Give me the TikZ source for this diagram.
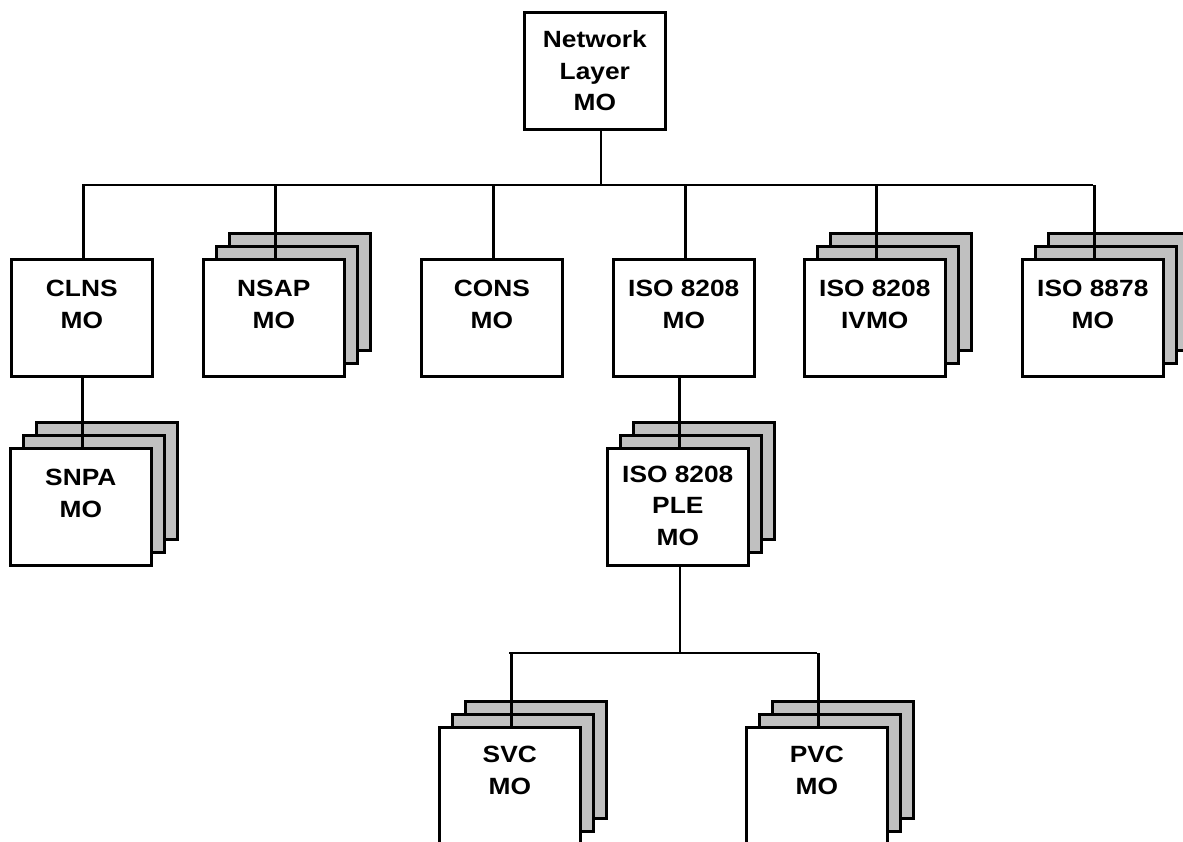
\documentclass[tikz,border=0pt]{standalone}
\usepackage{fontspec}
\setmainfont{Liberation Sans}
\newfontfamily\lblfont{Liberation Sans}[FakeStretch=1.12]
\definecolor{stackgray}{RGB}{192,192,192}
\tikzset{
  box/.style={draw, line width=2.6pt, fill=white, minimum width=141pt, minimum height=117pt, inner sep=0pt, anchor=north west},
  backbox/.style={box, fill=stackgray},
  txt/.style={font=\lblfont\bfseries\fontsize{23.5}{31.5}\selectfont, align=center, inner sep=0pt, anchor=north},
  conn/.style={line width=2.6pt}
}
\newcommand\backpair[3]{%
  \node[backbox] (#1b2) at ({#2+26},{#3-26}) {};
  \node[backbox] (#1b1) at ({#2+13},{#3-13}) {};
}
\begin{document}
\begin{tikzpicture}[x=1pt,y=-1pt]
\useasboundingbox (0,0) rectangle (1183,841);
\clip (0,0) rectangle (1183,841);
% stacked back boxes
\backpair{nsap}{202}{258}
\backpair{ivmo}{803}{258}
\backpair{isoseven}{1021}{258}
\backpair{snpa}{9}{447}
\backpair{ple}{606}{447}
\backpair{svc}{438}{726}
\backpair{pvc}{745}{726}
% front boxes
\node[box] (net) at (523,11) {};
\node[box] (clns) at (10,258) {};
\node[box] (nsap) at (202,258) {};
\node[box] (cons) at (420,258) {};
\node[box] (iso) at (612,258) {};
\node[box] (ivmo) at (803,258) {};
\node[box] (isoseven) at (1021,258) {};
\node[box] (snpa) at (9,447) {};
\node[box] (ple) at (606,447) {};
\node[box] (svc) at (438,726) {};
\node[box] (pvc) at (745,726) {};
% texts
\node[txt] (net-t) at ([yshift=-19.5pt]net.north) {Network\\Layer\\MO};
\node[txt] (clns-t) at ([yshift=-22pt]clns.north) {CLNS\\MO};
\node[txt] (nsap-t) at ([yshift=-22pt]nsap.north) {NSAP\\MO};
\node[txt] (cons-t) at ([yshift=-22pt]cons.north) {CONS\\MO};
\node[txt] (iso-t) at ([yshift=-22pt]iso.north) {ISO 8208\\MO};
\node[txt] (ivmo-t) at ([yshift=-22pt]ivmo.north) {ISO 8208\\IVMO};
\node[txt] (isoseven-t) at ([yshift=-22pt]isoseven.north) {ISO 8878\\MO};
\node[txt] (snpa-t) at ([yshift=-22pt]snpa.north) {SNPA\\MO};
\node[txt] (ple-t) at ([yshift=-18.5pt]ple.north) {ISO 8208\\PLE\\MO};
\node[txt] (svc-t) at ([yshift=-20pt]svc.north) {SVC\\MO};
\node[txt] (pvc-t) at ([yshift=-20pt]pvc.north) {PVC\\MO};
% connectors
\coordinate (busA) at (82,185);
\coordinate (busB) at (1093,185);
\draw[conn] (busA) -- (busB);
\draw[conn] ([xshift=6pt]net.south) -- ([xshift=6pt]net.south |- busA);
\foreach \n in {clns,nsap,cons,iso,ivmo,isoseven}
  \draw[conn] ([xshift=1.5pt]\n.north) -- ([xshift=1.5pt]\n.north |- busA);
\draw[conn] ([xshift=1.5pt]snpa.north) -- ([xshift=1.5pt]snpa.north |- clns.south);
\draw[conn] ([xshift=1.5pt]ple.north) -- ([xshift=1.5pt]ple.north |- iso.south);
\coordinate (busC) at (509,653);
\coordinate (busD) at (817,653);
\draw[conn] ([xshift=2pt]ple.south) -- ([xshift=2pt]ple.south |- busC);
\draw[conn] (busC) -- (busD);
\draw[conn] ([xshift=1.5pt]svc.north) -- ([xshift=1.5pt]svc.north |- busC);
\draw[conn] ([xshift=1.5pt]pvc.north) -- ([xshift=1.5pt]pvc.north |- busC);
\end{tikzpicture}
\end{document}
